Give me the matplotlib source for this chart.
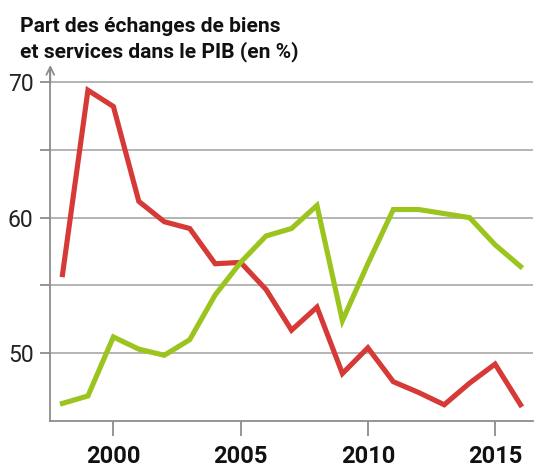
import matplotlib
matplotlib.use("Agg")
import matplotlib.pyplot as plt
from matplotlib import font_manager as fm

years = list(range(1998, 2017))
red_values = [55.8, 69.4, 68.2, 61.2, 59.7, 59.2, 56.6, 56.7, 54.7, 51.7, 53.4,
              48.5, 50.4, 47.9, 47.1, 46.2, 47.8, 49.2, 46.2]
green_values = [46.3, 46.85, 51.2, 50.3, 49.85, 51.0, 54.3, 56.7, 58.65, 59.2, 60.9,
                52.4, 56.6, 60.6, 60.6, 60.3, 60.0, 58.0, 56.4]
x_ticks = [2000, 2005, 2010, 2015]
y_ticks = [50, 60, 70]
y_minor = [55, 65]
title = "Part des échanges de biens\net services dans le PIB (en %)"

names = {f.name for f in fm.fontManager.ttflist}
FONT = "Roboto" if "Roboto" in names else "DejaVu Sans"

RED = "#d63a37"
GREEN = "#9cc41f"
GRAY = "#8c8c8c"

fig = plt.figure(figsize=(5.36, 4.72), dpi=100)
ax = fig.add_axes([0.0938, 0.108, 0.9006, 0.7543])

ax.plot(years, red_values, color=RED, lw=3.7, solid_joinstyle="miter", zorder=3)
ax.plot(years, green_values, color=GREEN, lw=3.7, solid_joinstyle="miter", zorder=4)

ax.set_xlim(1997.52, 2016.49)
ax.set_ylim(45.0, 71.26)

for s in ["top", "right"]:
    ax.spines[s].set_visible(False)
for s in ["left", "bottom"]:
    ax.spines[s].set_color(GRAY)
    ax.spines[s].set_linewidth(1.3)
ax.spines["left"].set_bounds(45.0, 70.9)

ax.set_yticks(y_ticks)
ax.set_yticks(y_minor, minor=True)
ax.set_xticks(x_ticks)
ax.tick_params(axis="y", which="both", length=7, width=1.3, color=GRAY, pad=5)
ax.tick_params(axis="x", length=11, width=1.3, color=GRAY, pad=6)
ax.set_yticklabels([str(v) for v in y_ticks], fontfamily=FONT, fontsize=16.5, color="#222222")
ax.set_xticklabels([str(v) for v in x_ticks], fontfamily=FONT, fontweight="bold",
                   fontsize=17, color="#111111")

ax.grid(axis="y", which="both", color="#a8a8a8", lw=1.2, zorder=1)
ax.set_axisbelow(True)

ax.annotate("", xy=(0, 1.0), xytext=(0, 0.95), xycoords="axes fraction",
            arrowprops=dict(arrowstyle="->", color=GRAY, lw=1.3, mutation_scale=14,
                            shrinkA=0, shrinkB=0), annotation_clip=False)

fig.text(20 / 536, 1 - 57 / 472, title, fontfamily=FONT, fontweight="bold",
         fontsize=15.1, color="#111111", ha="left", va="baseline", linespacing=1.3)

fig.savefig("out.png", dpi=100)
